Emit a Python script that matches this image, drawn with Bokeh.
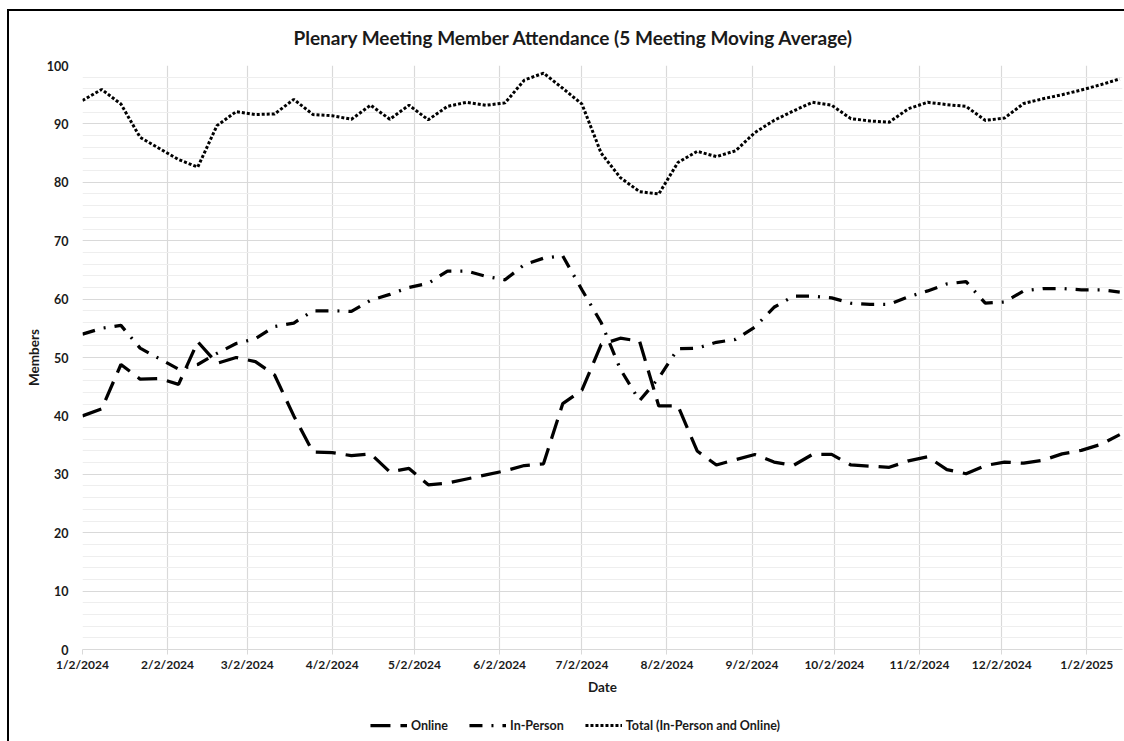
import pandas as pd
from bokeh.plotting import figure
from bokeh.layouts import column
from bokeh.models import (ColumnDataSource, FixedTicker, SingleIntervalTicker, Legend,
                          LegendItem, Range1d)
from bokeh.embed import file_html
from bokeh.resources import INLINE

# ---------------- data ----------------
meeting_dates = [
    "2024-01-02", "2024-01-09", "2024-01-16", "2024-01-23", "2024-01-30",
    "2024-02-06", "2024-02-13", "2024-02-20", "2024-02-27", "2024-03-05",
    "2024-03-12", "2024-03-19", "2024-03-26", "2024-04-02", "2024-04-09",
    "2024-04-16", "2024-04-23", "2024-04-30", "2024-05-07", "2024-05-14",
    "2024-05-21", "2024-05-28", "2024-06-04", "2024-06-11", "2024-06-18",
    "2024-06-25", "2024-07-02", "2024-07-09", "2024-07-16", "2024-07-23",
    "2024-07-30", "2024-08-06", "2024-08-13", "2024-08-20", "2024-08-27",
    "2024-09-03", "2024-09-10", "2024-09-17", "2024-09-24", "2024-10-01",
    "2024-10-08", "2024-10-15", "2024-10-22", "2024-10-29", "2024-11-05",
    "2024-11-12", "2024-11-19", "2024-11-26", "2024-12-03", "2024-12-10",
    "2024-12-17", "2024-12-24", "2024-12-31", "2025-01-07", "2025-01-14",
]
online = [
    40.0, 41.2, 48.8, 46.3, 46.4, 45.4, 52.7, 49.0, 50.0, 49.3,
    47.0, 40.0, 33.8, 33.7, 33.2, 33.5, 30.4, 31.0, 28.2, 28.5,
    29.2, 29.9, 30.6, 31.5, 31.8, 42.1, 44.4, 52.2, 53.3, 52.8,
    41.7, 41.7, 34.0, 31.6, 32.5, 33.4, 32.1, 31.5, 33.4, 33.4,
    31.6, 31.4, 31.2, 32.3, 33.0, 30.8, 30.1, 31.5, 32.1, 31.9,
    32.4, 33.5, 34.1, 35.1, 36.8,
]
in_person = [
    54.0, 55.0, 55.5, 51.6, 49.8, 48.0, 48.8, 50.7, 52.4, 53.2,
    55.3, 55.9, 58.0, 58.0, 57.9, 59.8, 60.8, 62.0, 62.7, 64.8,
    64.8, 63.9, 63.3, 65.9, 67.0, 67.4, 61.6, 56.0, 48.0, 42.6,
    46.5, 51.5, 51.6, 52.6, 53.1, 55.2, 58.6, 60.5, 60.5, 60.2,
    59.3, 59.1, 59.1, 60.4, 61.4, 62.6, 63.0, 59.3, 59.5, 61.4,
    61.8, 61.8, 61.6, 61.6, 61.2,
]
total = [
    94.0, 95.9, 93.4, 87.7, 85.8, 83.9, 82.6, 89.7, 92.1, 91.6,
    91.7, 94.2, 91.6, 91.4, 90.8, 93.2, 90.8, 93.2, 90.7, 93.0,
    93.7, 93.2, 93.6, 97.5, 98.7, 96.1, 93.4, 85.0, 80.8, 78.4,
    78.0, 83.4, 85.3, 84.4, 85.4, 88.5, 90.6, 92.2, 93.7, 93.2,
    90.9, 90.5, 90.3, 92.6, 93.7, 93.3, 93.0, 90.6, 91.0, 93.5,
    94.3, 95.0, 95.8, 96.7, 97.7,
]
tick_labels = [
    "1/2/2024", "2/2/2024", "3/2/2024", "4/2/2024", "5/2/2024", "6/2/2024",
    "7/2/2024", "8/2/2024", "9/2/2024", "10/2/2024", "11/2/2024", "12/2/2024",
    "1/2/2025",
]
x_end = "2025-01-15"
series_names = ["Online", "In-Person", "Total (In-Person and Online)"]
series_cols = ["online", "in_person", "total"]

# ---------------- build ----------------
FONT = "Lato"
TXT = "#1a1a1a"
STYLES = [dict(line_dash="20 10", line_width=3.25),
          dict(line_dash="13 9 2 9", line_width=3.25),
          dict(line_dash="3 2", line_width=3)]

dates = pd.to_datetime(meeting_dates)
tick_dates = pd.to_datetime(tick_labels, format="%m/%d/%Y")
tick_ms = [int(t.value // 10**6) for t in tick_dates]

src = ColumnDataSource(dict(date=dates, online=online, in_person=in_person, total=total))

p = figure(width=1117, height=691, x_axis_type="datetime",
           output_backend="svg", toolbar_location=None,
           x_range=Range1d(dates[0], pd.Timestamp(x_end)),
           y_range=Range1d(0, 100),
           min_border_left=73, min_border_right=4, min_border_top=54,
           min_border_bottom=53)
p.frame_align = False
p.styles = {"border-left": "2px solid black", "border-top": "2px solid black",
            "box-sizing": "border-box"}
p.background_fill_color = "white"
p.border_fill_color = "white"
p.outline_line_color = None

p.title.text = "Plenary Meeting Member Attendance (5 Meeting Moving Average)"
p.title.text_font = FONT
p.title.text_font_size = "19px"
p.title.text_font_style = "bold"
p.title.text_color = TXT
p.title.align = "left"
p.title.offset = 211
p.title.vertical_align = "top"
p.title.standoff = 29

# x axis
xa = p.xaxis[0]
xa.ticker = FixedTicker(ticks=tick_ms)
xa.major_label_overrides = {ms: lab for ms, lab in zip(tick_ms, tick_labels)}
xa.axis_label = "Date"
xa.axis_label_text_font = FONT
xa.axis_label_text_font_size = "13.5px"
xa.axis_label_text_font_style = "bold"
xa.axis_label_text_color = TXT
xa.axis_label_standoff = 4
xa.major_label_text_font = FONT
xa.major_label_text_font_size = "12px"
xa.major_label_text_font_style = "bold"
xa.major_label_text_color = TXT
xa.major_label_standoff = 2
xa.axis_line_color = "#d9d9d9"
xa.major_tick_line_color = "#d9d9d9"
xa.major_tick_out = 5
xa.major_tick_in = 0
xa.minor_tick_line_color = None

# y axis
ya = p.yaxis[0]
ya.ticker = SingleIntervalTicker(interval=10, num_minor_ticks=5)
ya.axis_label = "Members"
ya.axis_label_text_font = FONT
ya.axis_label_text_font_size = "13.5px"
ya.axis_label_text_font_style = "bold"
ya.axis_label_text_color = TXT
ya.axis_label_standoff = 2
ya.major_label_text_font = FONT
ya.major_label_text_font_size = "12.5px"
ya.major_label_text_font_style = "bold"
ya.major_label_text_color = TXT
ya.major_label_standoff = 8
ya.axis_line_color = None
ya.major_tick_line_color = None
ya.minor_tick_line_color = None

# grids
p.xgrid.ticker = FixedTicker(ticks=tick_ms)
p.xgrid.grid_line_color = "#d9d9d9"
p.xgrid.grid_line_width = 1.2
p.ygrid.grid_line_color = "#d9d9d9"
p.ygrid.grid_line_width = 1.2
p.ygrid.minor_grid_line_color = "#eeeeee"
p.ygrid.minor_grid_line_width = 1

# lines
for col, st in zip(series_cols, STYLES):
    p.line("date", col, source=src, line_color="black", **st)

# legend strip below the chart: same series and styles, ranges chosen so that
# only the legend keys are seen
lg = figure(width=1117, height=41, output_backend="svg", toolbar_location=None,
            x_axis_location=None, y_axis_location=None,
            x_range=Range1d(0, 1), y_range=Range1d(0, 1),
            min_border_left=15, min_border_right=0, min_border_top=9,
            min_border_bottom=0)
lg.frame_align = False
lg.styles = {"border-left": "2px solid black", "box-sizing": "border-box"}
lg.grid.visible = False
lg.outline_line_color = None
lg.background_fill_color = "white"
lg.border_fill_color = "white"
keys = [lg.line("date", col, source=src, line_color="black", **st)
        for col, st in zip(series_cols, STYLES)]

legend = Legend(items=[LegendItem(label=name, renderers=[r])
                       for name, r in zip(series_names, keys)],
                orientation="horizontal", location="center",
                label_text_font=FONT, label_text_font_size="12.5px",
                label_text_font_style="bold", label_text_color=TXT,
                glyph_width=37, glyph_height=16, label_standoff=4, spacing=21,
                padding=2, margin=0, border_line_color=None,
                background_fill_alpha=0)
lg.add_layout(legend)

layout = column(p, lg, spacing=0)
layout.styles = {"margin-left": "7px", "margin-top": "9px"}

open("out.html", "w").write(file_html(layout, INLINE))
